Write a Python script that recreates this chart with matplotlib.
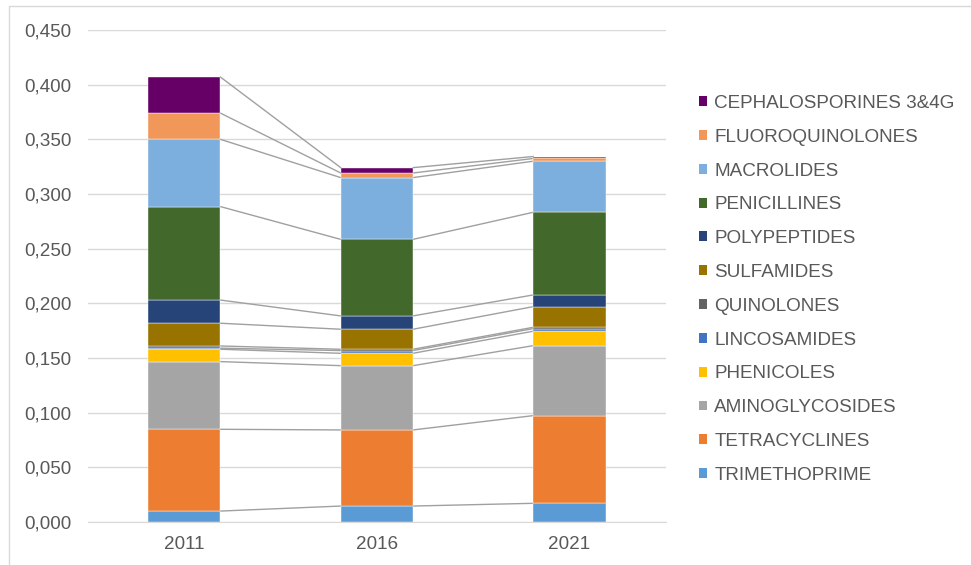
import numpy as np
import matplotlib.pyplot as plt
from matplotlib.patches import Patch, Rectangle
from matplotlib.ticker import FuncFormatter

plt.rcParams['font.family'] = ['Liberation Sans', 'DejaVu Sans']

years = ['2011', '2016', '2021']

# bottom to top
classes = ['TRIMETHOPRIME', 'TETRACYCLINES', 'AMINOGLYCOSIDES', 'PHENICOLES',
           'LINCOSAMIDES', 'QUINOLONES', 'SULFAMIDES', 'POLYPEPTIDES',
           'PENICILLINES', 'MACROLIDES', 'FLUOROQUINOLONES', 'CEPHALOSPORINES 3&4G']

trimethoprime = [0.0100, 0.0146, 0.0171]
tetracyclines = [0.0748, 0.0696, 0.0802]
aminoglycosides = [0.0619, 0.0588, 0.0640]
phenicoles = [0.0113, 0.0113, 0.0132]
lincosamides = [0.0010, 0.0025, 0.0024]
quinolones = [0.0020, 0.0012, 0.0012]
sulfamides = [0.0208, 0.0183, 0.0189]
polypeptides = [0.0212, 0.0122, 0.0107]
penicillines = [0.0855, 0.0700, 0.0756]
macrolides = [0.0615, 0.0565, 0.0467]
fluoroquinolones = [0.0240, 0.0042, 0.0025]
cephalosporines = [0.0330, 0.0049, 0.0018]

series = [trimethoprime, tetracyclines, aminoglycosides, phenicoles, lincosamides,
          quinolones, sulfamides, polypeptides, penicillines, macrolides,
          fluoroquinolones, cephalosporines]

colors = ['#5B9BD5', '#ED7D31', '#A5A5A5', '#FFC000', '#4472C4', '#636363',
          '#997300', '#264478', '#43682B', '#7CAFDD', '#F1975A', '#660066']

fig = plt.figure(figsize=(9.71, 5.65), dpi=100)
ax = fig.add_axes([0.0906, 0.0761, 0.595, 0.8708])

x = np.arange(len(years))
w = 0.375
bottom = np.zeros(len(years))
for vals, col in zip(series, colors):
    vals = np.array(vals)
    ax.bar(x, vals, w, bottom=bottom, color=col, edgecolor='white', linewidth=0.3, zorder=3)
    top = bottom + vals
    # series lines between bars
    for i in range(len(years) - 1):
        ax.plot([x[i] + w / 2, x[i + 1] - w / 2], [top[i], top[i + 1]],
                color='#A0A0A0', lw=1, zorder=2)
    bottom = top

ax.set_xlim(-0.5, 2.5)
ax.set_ylim(0, 0.45)
ax.set_yticks(np.arange(0, 0.451, 0.05))
ax.yaxis.set_major_formatter(FuncFormatter(lambda v, p: f'{v:.3f}'.replace('.', ',')))
ax.set_xticks(x)
ax.set_xticklabels(years)
ax.grid(axis='y', color='#D9D9D9', lw=1, zorder=0)
for s in ['top', 'right', 'left']:
    ax.spines[s].set_visible(False)
ax.spines['bottom'].set_color('#D9D9D9')
ax.tick_params(length=0, labelsize=13.6, colors='#595959')
ax.tick_params(axis='y', pad=12)
ax.tick_params(axis='x', pad=10)

handles = [Patch(facecolor=c) for c in colors][::-1]
fig.legend(handles, classes[::-1], loc='upper left', bbox_to_anchor=(0.72, 0.832),
           frameon=False, fontsize=13.6, labelcolor='#595959',
           borderpad=0, borderaxespad=0,
           handlelength=0.43, handleheight=0.43, handletextpad=0.37, labelspacing=0.89)

fig.patches.append(Rectangle((0.009, -0.01), 1.2, 1.0, transform=fig.transFigure,
                             fill=False, edgecolor='#D9D9D9', lw=1))

fig.savefig('out.png', dpi=100)
